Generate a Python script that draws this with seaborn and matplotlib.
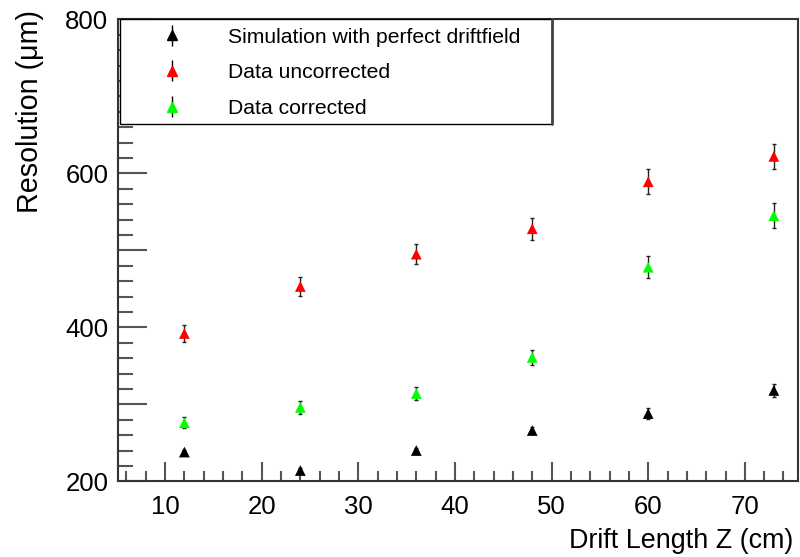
import numpy as np
import pandas as pd
import seaborn as sns
import matplotlib.pyplot as plt
from matplotlib.patches import Rectangle
from matplotlib.lines import Line2D

# Drift lengths (cm)
drift_z = [12, 24, 36, 48, 60, 73]

# Resolution (um) and uncertainties per data set
sim_res = [238, 214, 240, 266, 288, 318]
sim_err = [3, 3, 3, 4, 7, 8]
uncorr_res = [392, 453, 495, 528, 589, 622]
uncorr_err = [11, 12, 13, 14, 16, 16]
corr_res = [276, 296, 314, 361, 478, 545]
corr_err = [7, 8, 9, 10, 14, 16]

series_names = ["Simulation with perfect driftfield", "Data uncorrected", "Data corrected"]
series_colors = ["#000000", "#ff0000", "#00ff00"]

y_ticklabels = ["200", "400", "600", "800"]

sns.set_theme(style="white")
plt.rcParams["font.family"] = ["Liberation Sans", "DejaVu Sans"]
plt.rcParams["text.color"] = "black"
plt.rcParams["xtick.bottom"] = True
plt.rcParams["ytick.left"] = True

frames = []
for name, res, err in zip(series_names,
                          [sim_res, uncorr_res, corr_res],
                          [sim_err, uncorr_err, corr_err]):
    frames.append(pd.DataFrame({"z": drift_z, "res": res, "err": err, "set": name}))
df = pd.concat(frames, ignore_index=True)
palette = dict(zip(series_names, series_colors))

fig = plt.figure(figsize=(8, 5.57), dpi=100)
W, H = 800, 557
left, right, top, bottom = 118, 797.5, 19.3, 481.3
ax = fig.add_axes([left / W, 1 - bottom / H, (right - left) / W, (bottom - top) / H])

# error bars first, markers on top
for name in series_names:
    sub = df[df["set"] == name]
    ax.errorbar(sub["z"], sub["res"], yerr=sub["err"], fmt="none",
                ecolor="#222222", elinewidth=1.0, capsize=1.6, capthick=1.0, zorder=2)

sns.scatterplot(data=df, x="z", y="res", hue="set", palette=palette,
                marker="^", s=60, edgecolor="none", linewidth=0,
                legend=False, ax=ax, zorder=3)

ax.set_xlim(5.13, 75.45)
ax.set_ylim(200, 800)
ax.set_xlabel("")
ax.set_ylabel("")

ax.set_xticks(range(10, 71, 10))
ax.set_xticks(np.arange(6, 75, 2), minor=True)
ax.set_yticks(range(200, 801, 100))
ax.set_yticklabels([str(v) if str(v) in y_ticklabels else "" for v in range(200, 801, 100)])
ax.set_yticks(np.arange(200, 801, 20), minor=True)

ax.tick_params(axis="both", which="both", direction="in", color="#555555",
               labelcolor="black", bottom=True, left=True, top=False, right=False)
ax.tick_params(axis="x", which="major", length=14, width=1.5, labelsize=18.5, pad=10)
ax.tick_params(axis="x", which="minor", length=7, width=1.5)
ax.tick_params(axis="y", which="major", length=21, width=1.5, labelsize=18.5, pad=7)
ax.tick_params(axis="y", which="minor", length=11, width=1.5)
for sp in ax.spines.values():
    sp.set_color("#333333")
    sp.set_linewidth(1.5)

# axis titles, right/top aligned at the end of each axis
fig.text(793 / W, 1 - 541 / H, "Drift Length Z (cm)", ha="right", va="center", fontsize=19.4)
fig.text(30 / W, 1 - 10 / H, "Resolution (\u03bcm)", ha="center", va="top",
         rotation=90, fontsize=20.7)

# legend box
box_l, box_r, box_t, box_b = 119.5, 552, 19.3, 124
fig.patches.append(Rectangle((box_l / W, 1 - box_b / H), (box_r - box_l) / W,
                             (box_b - box_t) / H, transform=fig.transFigure,
                             facecolor="white", edgecolor="black", linewidth=1.0, zorder=5))
fig.lines.append(Line2D([box_r / W, box_r / W], [1 - box_b / H, 1 - box_t / H],
                        transform=fig.transFigure, color="#444444", linewidth=2.0, zorder=6))

handles = []
for name, col in zip(series_names, series_colors):
    h = ax.errorbar([], [], yerr=[], fmt="^", color=col, ecolor="black",
                    elinewidth=1.0, markersize=7.5, label=name)
    handles.append(h)
leg = fig.legend(handles=handles, labels=series_names, loc="upper left",
                 bbox_to_anchor=(142 / W, 1 - 17 / H), frameon=False,
                 fontsize=15.2, handlelength=1.8, handletextpad=1.75,
                 labelspacing=0.79, borderpad=0.0)
leg.set_zorder(7)

fig.savefig("out.png", dpi=100)
